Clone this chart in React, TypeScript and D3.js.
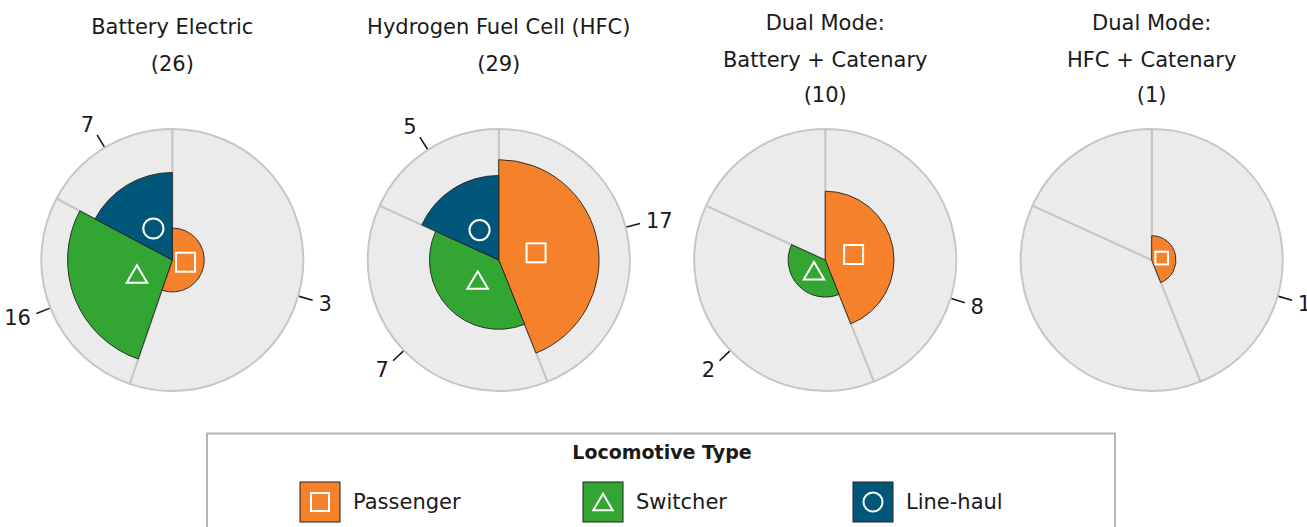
import React from 'react';
import * as d3 from 'd3';

// locomotive types, in slice order (clockwise from 12 o'clock)
const types = ['Passenger', 'Switcher', 'Line-haul'];
const typeColors = ['#F5822A', '#33A532', '#00577A'];
const typeSymbols = ['square', 'triangle', 'circle'];

const chartTitles = [
  ['Battery Electric'],
  ['Hydrogen Fuel Cell (HFC)'],
  ['Dual Mode:', 'Battery + Catenary'],
  ['Dual Mode:', 'HFC + Catenary'],
];
const chartTotals = [26, 29, 10, 1];

const passengerCounts = [3, 17, 8, 1];
const switcherCounts = [16, 7, 2, 0];
const lineHaulCounts = [7, 5, 0, 0];

// angular weight of each type's sector, per chart
const sliceWeights = [
  [199, 99, 62],
  [29, 25, 12],
  [29, 25, 12],
  [29, 25, 12],
];
// number of locomotives that would fill the whole disc
const fullDiscCount = [91, 66, 66, 66];

// where the passenger count label sits (degrees, clockwise from top)
const passengerLabelDeg = [106, 75.5, 107, 106];

const W = 1307;
const H = 527;
const R = 131;
const CY = 260;
const FONT = '"DejaVu Sans", sans-serif';
const TEXT = '#1a1a1a';

const Symbol: React.FC<{ kind: string; x: number; y: number; size: number }> = ({ kind, x, y, size }) => {
  const common = { fill: 'none', stroke: '#fff', strokeWidth: 2 };
  if (kind === 'square') {
    return <rect x={x - size / 2} y={y - size / 2} width={size} height={size} {...common} />;
  }
  if (kind === 'circle') {
    return <circle cx={x} cy={y} r={size * 0.53} {...common} />;
  }
  const w = size * 1.08;
  const h = size * 0.92;
  const pts = [
    [x, y - h / 2],
    [x + w / 2, y + h / 2],
    [x - w / 2, y + h / 2],
  ];
  return <polygon points={pts.map(p => p.join(',')).join(' ')} {...common} />;
};

const App: React.FC = () => {
  const cx = d3.scalePoint<number>().domain(d3.range(4)).range([172.3, 1151.7]);
  const pie = d3.pie<number>().sort(null).value(d => d);
  const arc = d3.arc<any>();
  const legendX = d3.scaleOrdinal<string, number>().domain(types).range([300, 583, 853]);

  return (
    <svg width={W} height={H} style={{ position: 'absolute', left: 0, top: 0, background: '#fff' }}
      fontFamily={FONT}>
      {d3.range(4).map(i => {
        const x0 = cx(i) as number;
        const counts = [passengerCounts[i], switcherCounts[i], lineHaulCounts[i]];
        const slices = pie(sliceWeights[i]);
        const rScale = d3.scaleSqrt().domain([0, fullDiscCount[i] / (2 * Math.PI)]).range([0, R]);
        const lines = [...chartTitles[i], `(${chartTotals[i]})`];
        const baselines = lines.length === 2 ? [34, 71] : [29.5, 66.5, 102];

        return (
          <g key={i}>
            {lines.map((t, k) => (
              <text key={k} x={x0} y={baselines[k]} textAnchor="middle" fontSize={21} fill={TEXT}>{t}</text>
            ))}
            <g transform={`translate(${x0},${CY})`}>
              {slices.map((s, j) => (
                <path key={'bg' + j}
                  d={arc({ innerRadius: 0, outerRadius: R, startAngle: s.startAngle, endAngle: s.endAngle }) || ''}
                  fill="#EBEBEB" stroke="#C6C6C6" strokeWidth={2} strokeLinejoin="round" />
              ))}
              {slices.map((s, j) => {
                const c = counts[j];
                if (!c) return null;
                const r = rScale(c / (s.endAngle - s.startAngle));
                return (
                  <path key={'w' + j}
                    d={arc({ innerRadius: 0, outerRadius: r, startAngle: s.startAngle, endAngle: s.endAngle }) || ''}
                    fill={typeColors[j]} stroke="#222" strokeWidth={0.9} />
                );
              })}
              {slices.map((s, j) => {
                const c = counts[j];
                if (!c) return null;
                const r = rScale(c / (s.endAngle - s.startAngle));
                const m = (s.startAngle + s.endAngle) / 2;
                const d = Math.min(0.42 * r, 38);
                const size = r < 28 ? r * 0.52 : 19;
                return <Symbol key={'s' + j} kind={typeSymbols[j]} x={Math.sin(m) * d} y={-Math.cos(m) * d} size={size} />;
              })}
              {slices.map((s, j) => {
                const c = counts[j];
                if (!c) return null;
                const a = j === 0 ? (passengerLabelDeg[i] * Math.PI) / 180 : (s.startAngle + s.endAngle) / 2;
                const dx = Math.sin(a);
                const dy = -Math.cos(a);
                const r1 = R + 1;
                const r2 = R + 15;
                const ex = dx * r2;
                const ey = dy * r2;
                return (
                  <g key={'l' + j}>
                    <line x1={dx * r1} y1={dy * r1} x2={ex} y2={ey} stroke={TEXT} strokeWidth={1.6} />
                    <text x={ex + dx * 6} y={ey + dy * 12.5} dy="0.35em" textAnchor={dx >= 0 ? 'start' : 'end'}
                      fontSize={21} fill={TEXT}>{c}</text>
                  </g>
                );
              })}
            </g>
          </g>
        );
      })}

      {/* legend */}
      <rect x={207} y={433.5} width={908} height={130} fill="#fff" stroke="#B5B5B5" strokeWidth={2} />
      <text x={662} y={459} textAnchor="middle" fontSize={19} fontWeight="bold" fill={TEXT}>Locomotive Type</text>
      {types.map((t, j) => {
        const lx = legendX(t);
        return (
          <g key={t}>
            <rect x={lx} y={482} width={40} height={40} fill={typeColors[j]} stroke="#222" strokeWidth={1} />
            <Symbol kind={typeSymbols[j]} x={lx + 20} y={502} size={18} />
            <text x={lx + 53} y={509} fontSize={21} fill={TEXT}>{t}</text>
          </g>
        );
      })}
    </svg>
  );
};

export default App;
